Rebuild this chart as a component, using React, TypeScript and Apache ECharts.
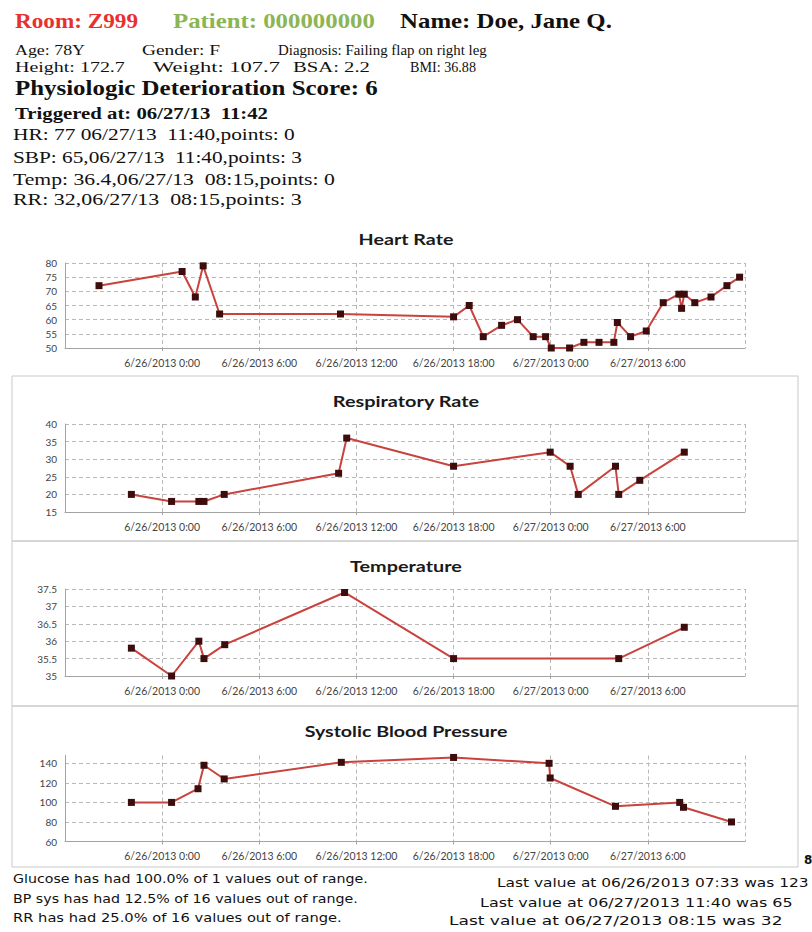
import React, { useEffect, useRef } from "react";
import * as echarts from "echarts";

// ---------- data ----------
const X_START = "06/25/2013 18:00";
const X_END = "06/27/2013 12:00";
const X_STEP_HOURS = 6;

const HR_TIMES = [
  "06/25/2013 20:06", "06/26/2013 01:14", "06/26/2013 02:03", "06/26/2013 02:32", "06/26/2013 03:33",
  "06/26/2013 11:01", "06/26/2013 18:00", "06/26/2013 18:58", "06/26/2013 19:50", "06/26/2013 20:58",
  "06/26/2013 21:57", "06/26/2013 22:55", "06/26/2013 23:41", "06/27/2013 00:02", "06/27/2013 01:10",
  "06/27/2013 02:03", "06/27/2013 02:59", "06/27/2013 03:54", "06/27/2013 04:07", "06/27/2013 04:56",
  "06/27/2013 05:54", "06/27/2013 06:57", "06/27/2013 07:55", "06/27/2013 08:05", "06/27/2013 08:15",
  "06/27/2013 08:54", "06/27/2013 09:54", "06/27/2013 10:53", "06/27/2013 11:40",
];
const HR_VALUES = [72, 77, 68, 79, 62, 62, 61, 65, 54, 58, 60, 54, 54, 50, 50, 52, 52, 52, 59, 54, 56, 66, 69, 64, 69, 66, 68, 72, 75];

const RR_TIMES = [
  "06/25/2013 22:06", "06/26/2013 00:35", "06/26/2013 02:16", "06/26/2013 02:35", "06/26/2013 03:50",
  "06/26/2013 10:54", "06/26/2013 11:24", "06/26/2013 18:00", "06/26/2013 23:58", "06/27/2013 01:12",
  "06/27/2013 01:42", "06/27/2013 04:00", "06/27/2013 04:12", "06/27/2013 05:30", "06/27/2013 08:15",
];
const RR_VALUES = [20, 18, 18, 18, 20, 26, 36, 28, 32, 28, 20, 28, 20, 24, 32];

const TEMP_TIMES = [
  "06/25/2013 22:06", "06/26/2013 00:35", "06/26/2013 02:16", "06/26/2013 02:35", "06/26/2013 03:52",
  "06/26/2013 11:16", "06/26/2013 18:00", "06/27/2013 04:12", "06/27/2013 08:15",
];
const TEMP_VALUES = [35.8, 35.0, 36.0, 35.5, 35.9, 37.4, 35.5, 35.5, 36.4];

const SBP_TIMES = [
  "06/25/2013 22:06", "06/26/2013 00:35", "06/26/2013 02:13", "06/26/2013 02:35", "06/26/2013 03:50",
  "06/26/2013 11:04", "06/26/2013 18:00", "06/26/2013 23:54", "06/26/2013 23:58", "06/27/2013 04:00",
  "06/27/2013 07:58", "06/27/2013 08:12", "06/27/2013 11:10",
];
const SBP_VALUES = [100, 100, 114, 138, 124, 141, 146, 140, 125, 96, 100, 95, 80];

const CHART_TITLES = ["Heart Rate", "Respiratory Rate", "Temperature", "Systolic Blood Pressure"];
const Y_MIN = [50, 15, 35, 60];
const Y_MAX = [80, 40, 37.5, 148];
const Y_STEP = [5, 5, 0.5, 20];

const HEADER_ROOM = "Room: Z999";
const HEADER_PATIENT = "Patient: 000000000";
const HEADER_NAME = "Name: Doe, Jane Q.";
const INFO_ROW1 = ["Age: 78Y", "Gender: F", "Diagnosis: Failing flap on right leg"];
const INFO_ROW2 = ["Height: 172.7", "Weight: 107.7", "BSA: 2.2", "BMI: 36.88"];
const SCORE_LINE = "Physiologic Deterioration Score: 6";
const TRIGGER_LINE = "Triggered at: 06/27/13  11:42";
const DETAIL_LINES = [
  "HR: 77 06/27/13  11:40,points: 0",
  "SBP: 65,06/27/13  11:40,points: 3",
  "Temp: 36.4,06/27/13  08:15,points: 0",
  "RR: 32,06/27/13  08:15,points: 3",
];
const FOOTER_LEFT = [
  "Glucose has had 100.0% of 1 values out of range.",
  "BP sys has had 12.5% of 16 values out of range.",
  "RR has had 25.0% of 16 values out of range.",
];
const FOOTER_RIGHT = [
  "Last value at 06/26/2013 07:33 was 123",
  "Last value at 06/27/2013 11:40 was 65",
  "Last value at 06/27/2013 08:15 was 32",
];

// ---------- helpers ----------
function toMs(s: string): number {
  const [d, t] = s.split(" ");
  const [mo, da, yr] = d.split("/").map(Number);
  const [h, mi] = t.split(":").map(Number);
  return Date.UTC(yr, mo - 1, da, h, mi);
}
function fmtTick(v: number): string {
  const d = new Date(v);
  const mm = String(d.getUTCMinutes()).padStart(2, "0");
  return `${d.getUTCMonth() + 1}/${d.getUTCDate()}/${d.getUTCFullYear()} ${d.getUTCHours()}:${mm}`;
}

const SERIF = '"Liberation Serif", "Times New Roman", serif';
const SANS = '"DejaVu Sans", sans-serif';
const LATO = 'Lato, "Open Sans", sans-serif';
const K: Record<string, number> = { [SERIF]: 0.3375, [SANS]: 0.346, [LATO]: 0.387 };

let measureCtx: CanvasRenderingContext2D | null = null;
function fitScale(text: string, family: string, size: number, weight: string, width?: number): number {
  if (!width) return 1;
  if (!measureCtx) measureCtx = document.createElement("canvas").getContext("2d");
  if (!measureCtx) return 1;
  measureCtx.font = `${weight} ${size}px ${family}`;
  const w = measureCtx.measureText(text).width;
  return w > 0 ? width / w : 1;
}

function txt(
  text: string, x: number, baseline: number, size: number, family: string,
  weight: string, color: string, width?: number, align: string = "left"
) {
  return {
    type: "text",
    x,
    y: baseline - K[family] * size,
    scaleX: fitScale(text, family, size, weight, width),
    silent: true,
    style: {
      text,
      fontSize: size,
      fontFamily: family,
      fontWeight: weight,
      fill: color,
      align,
      verticalAlign: "middle",
    },
  };
}

export default function App() {
  const ref = useRef<HTMLDivElement>(null);

  useEffect(() => {
    if (!ref.current) return;
    const chart = echarts.init(ref.current, null, { renderer: "svg", width: 812, height: 932 });

    const xMin = toMs(X_START);
    const xMax = toMs(X_END);
    const step = X_STEP_HOURS * 3600 * 1000;

    const seriesTimes = [HR_TIMES, RR_TIMES, TEMP_TIMES, SBP_TIMES];
    const seriesValues = [HR_VALUES, RR_VALUES, TEMP_VALUES, SBP_VALUES];

    const grids = [
      { left: 65, top: 263, width: 680, height: 85 },
      { left: 65, top: 424, width: 680, height: 88 },
      { left: 65, top: 589, width: 680, height: 87 },
      { left: 65, top: 755.5, width: 680, height: 86 },
    ];
    const titleBase = [245, 406.7, 571.7, 736.7];
    const titleWidth = [95, 147, 112, 203];

    const gridColor = "#b9b9b9";
    const axisColor = "#a3a3a3";

    const xAxis = grids.map((_, i) => ({
      type: "value",
      gridIndex: i,
      min: xMin,
      max: xMax,
      interval: step,
      axisLine: { show: true, onZero: false, lineStyle: { color: axisColor, width: 1 } },
      axisTick: { show: true, length: 3, lineStyle: { color: axisColor } },
      axisLabel: {
        formatter: (v: number) => fmtTick(v),
        showMinLabel: false,
        showMaxLabel: false,
        fontFamily: LATO,
        fontSize: 10.5,
        color: "#444444",
        margin: 9,
      },
      splitLine: { show: true, lineStyle: { type: [4, 3], color: gridColor, width: 1 } },
    }));

    const yAxis = grids.map((_, i) => ({
      type: "value",
      gridIndex: i,
      min: Y_MIN[i],
      max: Y_MAX[i],
      interval: Y_STEP[i],
      axisLine: { show: true, lineStyle: { color: axisColor, width: 1 } },
      axisTick: { show: false },
      axisLabel: {
        fontFamily: LATO,
        fontSize: 10,
        color: "#444444",
        margin: 8,
        showMaxLabel: i !== 3,
      },
      splitLine: {
        show: true,
        showMaxLine: i !== 3,
        lineStyle: { type: [4, 3], color: gridColor, width: 1 },
      },
    }));

    const series = grids.map((_, i) => ({
      type: "line",
      xAxisIndex: i,
      yAxisIndex: i,
      data: seriesTimes[i].map((t, j) => [toMs(t), seriesValues[i][j]]),
      symbol: "rect",
      symbolSize: 7,
      showSymbol: true,
      clip: false,
      lineStyle: { color: "#c8433e", width: 2 },
      itemStyle: { color: "#3d0d0d", borderWidth: 0 },
      emphasis: { disabled: true },
      z: 5,
    }));

    const graphics: any[] = [];
    // panel frames
    const panelColor = "#c9c9c9";
    [[376, 165], [541, 165], [706, 161]].forEach(([y, h]) => {
      graphics.push({
        type: "rect",
        silent: true,
        shape: { x: 12, y, width: 786, height: h },
        style: { fill: "none", stroke: panelColor, lineWidth: 1 },
      });
    });
    // chart titles
    CHART_TITLES.forEach((t, i) => {
      graphics.push(txt(t, 406, titleBase[i], 16, LATO, "bold", "#1a1a1a", titleWidth[i], "center"));
    });

    // header
    graphics.push(txt(HEADER_ROOM, 15, 28.3, 22, SERIF, "bold", "#e8312f", 123));
    graphics.push(txt(HEADER_PATIENT, 173, 28.3, 22, SERIF, "bold", "#8cb553", 202));
    graphics.push(txt(HEADER_NAME, 400, 28.3, 22, SERIF, "bold", "#111111", 212));

    const row1X = [15, 142, 278];
    const row1W = [70, 78, 209];
    INFO_ROW1.forEach((t, i) => graphics.push(txt(t, row1X[i], 55, 15, SERIF, "normal", "#111111", row1W[i])));
    const row2X = [15, 153, 293, 410];
    const row2W = [110, 127, 77, 66];
    INFO_ROW2.forEach((t, i) => graphics.push(txt(t, row2X[i], 72, 15, SERIF, "normal", "#111111", row2W[i])));

    graphics.push(txt(SCORE_LINE, 15, 95, 20, SERIF, "bold", "#111111", 363));
    graphics.push(txt(TRIGGER_LINE, 15, 119, 17, SERIF, "bold", "#111111", 253));
    const detailBase = [140, 163.3, 185, 205.3];
    const detailW = [282, 289, 322, 289];
    DETAIL_LINES.forEach((t, i) => graphics.push(txt(t, 13, detailBase[i], 17, SERIF, "normal", "#111111", detailW[i])));

    // footer
    const fLeftBase = [883.3, 903.3, 922.3];
    const fLeftW = [355, 345, 329];
    FOOTER_LEFT.forEach((t, i) => graphics.push(txt(t, 13, fLeftBase[i], 12, SANS, "normal", "#111111", fLeftW[i])));
    const fRightX = [497, 480, 449];
    const fRightBase = [887, 906.7, 925];
    const fRightW = [312, 313, 334];
    FOOTER_RIGHT.forEach((t, i) => graphics.push(txt(t, fRightX[i], fRightBase[i], 12, SANS, "normal", "#111111", fRightW[i])));
    graphics.push(txt("8", 804, 864, 12, SANS, "bold", "#111111"));

    chart.setOption({
      animation: false,
      backgroundColor: "#ffffff",
      grid: grids.map((g) => ({ ...g, containLabel: false })),
      xAxis,
      yAxis,
      series,
      graphic: { elements: graphics },
    });

    return () => chart.dispose();
  }, []);

  return (
    <div
      ref={ref}
      style={{ position: "absolute", left: 0, top: 0, width: 812, height: 932, background: "#fff" }}
    />
  );
}
